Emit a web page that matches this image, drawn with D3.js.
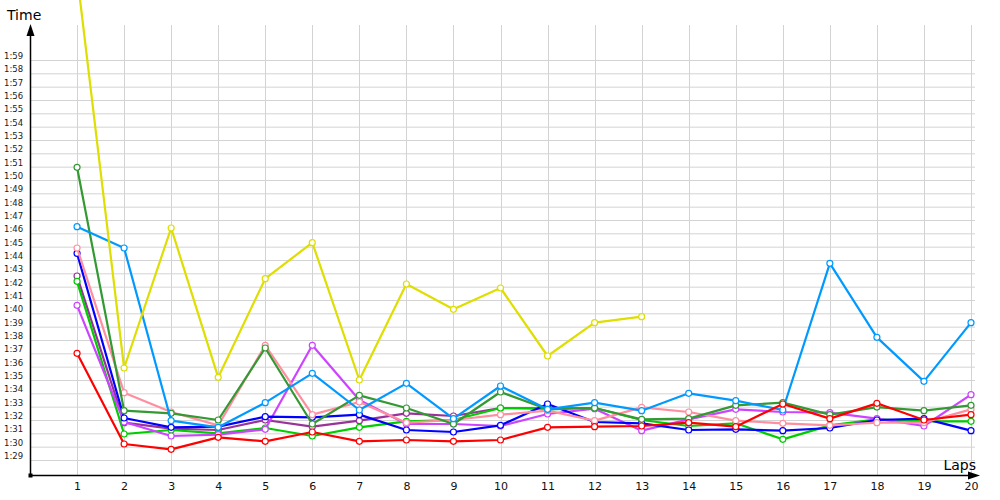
<!DOCTYPE html>
<html>
<head>
<meta charset="utf-8">
<script src="https://cdn.jsdelivr.net/npm/d3@7"></script>
<style>
  html, body { margin: 0; padding: 0; background: #fff; }
  svg { display: block; }
</style>
</head>
<body>
<svg id="chart" width="1000" height="500"></svg>
<script>
// ---- data (lap times in seconds) ----
const laps = d3.range(1, 21);
const yTickSeconds = d3.range(89, 120); // 1:29 .. 1:59

const yellowTimes = [125.4, 95.9, 106.4, 95.2, 102.6, 105.3, 95.0, 102.2, 100.3, 101.9, 96.8, 99.3, 99.75];
const cyanTimes   = [106.5, 104.9, 91.95, 91.45, 93.3, 95.5, 92.75, 94.75, 92.1, 94.55, 92.8, 93.3, 92.7, 94.0, 93.45, 92.75, 103.75, 98.2, 94.9, 99.3];
const darkGreenTimes = [110.95, 92.7, 92.5, 92.0, 97.4, 91.7, 93.85, 92.9, 91.7, 94.1, 92.8, 92.9, 92.05, 92.1, 93.1, 93.3, 92.4, 92.97, 92.7, 93.1];
const pinkTimes   = [104.9, 94.05, 92.6, 91.6, 97.6, 92.4, 93.35, 91.8, 92.0, 92.4, 92.7, 91.95, 92.95, 92.6, 91.95, 91.75, 91.6, 91.8, 91.8, 92.8];
const blueTimes   = [104.5, 92.15, 91.45, 91.5, 92.25, 92.2, 92.4, 91.25, 91.1, 91.6, 93.2, 91.85, 91.75, 91.25, 91.3, 91.2, 91.4, 92.0, 92.1, 91.2];
const purpleTimes = [102.8, 91.8, 91.35, 91.25, 92.0, 91.5, 91.95, 92.5, 92.3, 92.9, 92.85];
const greenTimes  = [102.4, 90.95, 91.25, 91.0, 91.4, 90.8, 91.45, 91.9, 92.0, 92.9, 92.9, 92.9, 92.0, 91.55, 91.75, 90.55, 91.6, 92.05, 91.9, 91.9];
const violetTimes = [100.6, 91.85, 90.8, 90.9, 91.3, 97.6, 93.5, 91.7, 91.7, 91.55, 92.45, 92.85, 91.2, 92.05, 92.8, 92.6, 92.55, 92.1, 91.55, 93.9];
const redTimes    = [97.0, 90.2, 89.8, 90.7, 90.4, 91.1, 90.4, 90.5, 90.4, 90.5, 91.45, 91.5, 91.55, 91.8, 91.5, 93.2, 92.1, 93.25, 92.0, 92.4];

const series = [
  { name: "purple",    color: "#993399", values: purpleTimes },
  { name: "green",     color: "#00cc00", values: greenTimes },
  { name: "violet",    color: "#cc44ff", values: violetTimes },
  { name: "blue",      color: "#0000ff", values: blueTimes },
  { name: "pink",      color: "#ff8fa0", values: pinkTimes },
  { name: "darkgreen", color: "#339933", values: darkGreenTimes },
  { name: "cyan",      color: "#0099ff", values: cyanTimes },
  { name: "red",       color: "#ff0000", values: redTimes },
  { name: "yellow",    color: "#dede00", values: yellowTimes }
];

// ---- layout ----
const svg = d3.select("#chart");
const x = d3.scaleLinear().domain([0, 20]).range([30, 971]);
const y = d3.scaleLinear().domain([89, 119]).range([460, 60]);
const axisY = 475, axisX = 30, gridRight = 975, gridTop = 25;

const fmt = s => Math.floor(s / 60) + ":" + String(s % 60).padStart(2, "0");

// horizontal grid
svg.append("g").selectAll("line").data(yTickSeconds).join("line")
  .attr("x1", axisX).attr("x2", gridRight)
  .attr("y1", d => y(d) + 0.5).attr("y2", d => y(d) + 0.5)
  .attr("stroke", "#d3d3d3").attr("stroke-width", 1);

// vertical grid
svg.append("g").selectAll("line").data(laps).join("line")
  .attr("x1", d => Math.round(x(d)) + 0.5).attr("x2", d => Math.round(x(d)) + 0.5)
  .attr("y1", gridTop).attr("y2", axisY)
  .attr("stroke", "#d3d3d3").attr("stroke-width", 1);

// y tick labels
svg.append("g").selectAll("text").data(yTickSeconds).join("text")
  .attr("x", 4).attr("y", d => y(d) - 1)
  .attr("font-family", "DejaVu Sans, Verdana, sans-serif")
  .attr("font-size", 8.5)
  .attr("fill", "#1a1a1a")
  .text(d => fmt(d));

// x axis with labels
const xAxis = d3.axisBottom(x).tickValues(laps).tickSize(0).tickPadding(7).tickFormat(d3.format("d"));
const gx = svg.append("g").attr("transform", `translate(0,${axisY})`).call(xAxis);
gx.select(".domain").remove();
gx.selectAll("text").attr("font-family", "DejaVu Sans, Verdana, sans-serif").attr("font-size", 11).attr("fill", "#111");

// axes lines
svg.append("line").attr("x1", axisX + 0.5).attr("x2", axisX + 0.5).attr("y1", axisY).attr("y2", 32)
  .attr("stroke", "#000").attr("stroke-width", 1.5);
svg.append("line").attr("x1", axisX).attr("x2", 972).attr("y1", axisY + 0.5).attr("y2", axisY + 0.5)
  .attr("stroke", "#000").attr("stroke-width", 1.5);
// arrowheads
svg.append("path").attr("d", `M${axisX + 0.5},24 L${axisX - 3.5},36 L${axisX + 4.5},36 Z`).attr("fill", "#000");
svg.append("path").attr("d", `M980,${axisY + 0.5} L968,${axisY - 3.5} L968,${axisY + 4.5} Z`).attr("fill", "#000");
// origin square
svg.append("rect").attr("x", axisX - 1.5).attr("y", axisY - 1.5).attr("width", 4).attr("height", 4).attr("fill", "#000");

// axis titles
svg.append("text").attr("x", 7).attr("y", 20).attr("font-family", "DejaVu Sans, Verdana, sans-serif")
  .attr("font-size", 14).attr("fill", "#000").text("Time");
svg.append("text").attr("x", 976).attr("y", 470).attr("text-anchor", "end")
  .attr("font-family", "DejaVu Sans, Verdana, sans-serif")
  .attr("font-size", 14).attr("fill", "#000").text("Laps");

// lines + markers
const line = d3.line().x((d, i) => x(i + 1)).y(d => y(d));
const gs = svg.append("g").selectAll("g").data(series).join("g");
gs.append("path")
  .attr("d", d => line(d.values))
  .attr("fill", "none").attr("stroke", d => d.color).attr("stroke-width", 2.2)
  .attr("stroke-linejoin", "round");
gs.each(function (s) {
  d3.select(this).selectAll("circle").data(s.values).join("circle")
    .attr("cx", (d, i) => x(i + 1)).attr("cy", d => y(d)).attr("r", 3)
    .attr("fill", "#fff").attr("stroke", s.color).attr("stroke-width", 1.2);
});
</script>
</body>
</html>
